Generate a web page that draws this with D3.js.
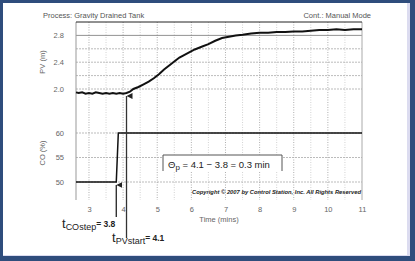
<!DOCTYPE html>
<html>
<head>
<meta charset="utf-8">
<script src="https://cdn.jsdelivr.net/npm/d3@7"></script>
<style>
  body { margin: 0; background: #fff; }
  svg { display: block; font-family: "Liberation Sans", Arial, sans-serif; }
</style>
</head>
<body>
<svg id="chart" width="415" height="261"></svg>
<script>
// PV (tank level, m)
var pvTime = [2.62, 2.7, 2.8, 2.9, 3.0, 3.1, 3.2, 3.3, 3.4, 3.5, 3.6, 3.7, 3.8, 3.9, 4.0, 4.1,
    4.2, 4.3, 4.45, 4.6, 4.75, 4.9, 5.05, 5.2, 5.35, 5.5, 5.65, 5.8, 5.95, 6.1, 6.3, 6.5, 6.7,
    6.9, 7.1, 7.3, 7.5, 7.75, 8.0, 8.25, 8.5, 8.75, 9.0, 9.25, 9.5, 9.75, 10.0, 10.25, 10.5, 10.75, 11.0];
var pvValue = [1.95, 1.94, 1.95, 1.93, 1.94, 1.93, 1.95, 1.94, 1.93, 1.94, 1.93, 1.94, 1.93, 1.94, 1.93, 1.94,
    1.96, 2.00, 2.03, 2.07, 2.11, 2.16, 2.22, 2.29, 2.35, 2.41, 2.47, 2.51, 2.55, 2.59, 2.63, 2.67, 2.72,
    2.76, 2.78, 2.80, 2.81, 2.83, 2.84, 2.84, 2.85, 2.85, 2.86, 2.86, 2.87, 2.88, 2.88, 2.89, 2.88, 2.89, 2.89];

// CO (controller output, %) step
var coTime = [2.62, 3.8, 3.86, 11.0];
var coValue = [50, 50, 60, 60];

var timeTicks = [3, 4, 5, 6, 7, 8, 9, 10, 11];
var pvTicks = [2.0, 2.4, 2.8];
var pvGrid = [2.0, 2.2, 2.4, 2.6, 2.8];
var coTicks = [50, 55, 60];

var tCOstep = 3.8, tPVstart = 4.1;

var svg = d3.select("#chart");

// blue frame
svg.append("rect").attr("width", 415).attr("height", 261).attr("fill", "#2f4d7c");
svg.append("rect").attr("x", 3).attr("y", 3).attr("width", 407).attr("height", 253).attr("fill", "#dcdcf0");
svg.append("rect").attr("x", 3).attr("y", 3).attr("width", 404).attr("height", 252).attr("fill", "#fff");

var plotL = 76, plotR = 362, plotT = 22, plotB = 200;

var x = d3.scaleLinear().domain([2.62, 11]).range([plotL, plotR]);
var yPV = d3.scaleLinear().domain([2.0, 3.0]).range([89, plotT]);
var yCO = d3.scaleLinear().domain([50, 60]).range([182, 133]);

// grid
svg.append("g").selectAll("line")
    .data(d3.range(3, 11, 0.5))
    .enter().append("line")
    .attr("x1", d => x(d)).attr("x2", d => x(d))
    .attr("y1", plotT).attr("y2", plotB)
    .attr("stroke", d => d % 1 === 0 ? "#9a9a9a" : "#c8c8c8")
    .attr("stroke-width", 0.8)
    .attr("stroke-dasharray", "1,1.5");

svg.append("g").selectAll("line")
    .data(pvGrid)
    .enter().append("line")
    .attr("x1", plotL).attr("x2", plotR)
    .attr("y1", d => yPV(d)).attr("y2", d => yPV(d))
    .attr("stroke", d => d === 2.8 ? "#777" : "#aaa")
    .attr("stroke-width", 0.8)
    .attr("stroke-dasharray", d => d === 2.8 ? null : "2,1");

svg.append("g").selectAll("line")
    .data(coTicks)
    .enter().append("line")
    .attr("x1", plotL).attr("x2", plotR)
    .attr("y1", d => yCO(d)).attr("y2", d => yCO(d))
    .attr("stroke", "#aaa")
    .attr("stroke-width", 0.8)
    .attr("stroke-dasharray", "2,1");

// borders
svg.append("line").attr("x1", plotL).attr("x2", plotL).attr("y1", plotT).attr("y2", plotB)
    .attr("stroke", "#999").attr("stroke-width", 1);
svg.append("line").attr("x1", plotR).attr("x2", plotR).attr("y1", plotT).attr("y2", plotB)
    .attr("stroke", "#aaa").attr("stroke-width", 1);
svg.append("line").attr("x1", plotL).attr("x2", plotR).attr("y1", plotT).attr("y2", plotT)
    .attr("stroke", "#222").attr("stroke-width", 1);

// axes
function styleAxis(g) {
    g.select(".domain").remove();
    g.selectAll("text").attr("fill", "#666").style("font-size", "7.5px");
}
svg.append("g").attr("transform", "translate(" + plotL + ",0)")
    .call(d3.axisLeft(yPV).tickValues(pvTicks).tickFormat(d3.format(".1f")).tickSize(0).tickPadding(12))
    .call(styleAxis);
svg.append("g").attr("transform", "translate(" + plotL + ",0)")
    .call(d3.axisLeft(yCO).tickValues(coTicks).tickSize(0).tickPadding(12))
    .call(styleAxis);
svg.append("g").attr("transform", "translate(0," + plotB + ")")
    .call(d3.axisBottom(x).tickValues(timeTicks).tickSize(0).tickPadding(7))
    .call(styleAxis);

// axis titles
svg.append("text").attr("transform", "translate(45,62) rotate(-90)")
    .attr("text-anchor", "middle").attr("fill", "#666").style("font-size", "7.5px").text("PV (m)");
svg.append("text").attr("transform", "translate(45,153) rotate(-90)")
    .attr("text-anchor", "middle").attr("fill", "#666").style("font-size", "7.5px").text("CO (%)");
svg.append("text").attr("x", 219).attr("y", 222)
    .attr("text-anchor", "middle").attr("fill", "#666").style("font-size", "7.5px").text("Time (mins)");

svg.append("text").attr("x", 43).attr("y", 18).attr("fill", "#555").style("font-size", "7.5px")
    .text("Process: Gravity Drained Tank");
svg.append("text").attr("x", 371).attr("y", 18).attr("text-anchor", "end").attr("fill", "#555").style("font-size", "7.5px")
    .text("Cont.: Manual Mode");

// theta box
var box = svg.append("g");
box.append("rect").attr("x", 163).attr("y", 155).attr("width", 119).attr("height", 16).attr("fill", "#fff");
box.append("path").attr("d", "M163,171V155H282V171").attr("fill", "none").attr("stroke", "#555").attr("stroke-width", 1);
var th = box.append("text").attr("x", 168).attr("y", 168).attr("fill", "#222").style("font-size", "9.5px");
th.append("tspan").text("Θ");
th.append("tspan").attr("dy", 1.5).style("font-size", "8px").text("p");
th.append("tspan").attr("dy", -1.5).text(" = 4.1 − 3.8 = 0.3 min");

svg.append("text").attr("x", 361).attr("y", 194).attr("text-anchor", "end")
    .attr("fill", "#222").style("font-size", "5.8px").style("font-weight", "bold").style("font-style", "italic")
    .text("Copyright © 2007 by Control Station, Inc.   All Rights Reserved");

// data lines
var pvData = pvTime.map((t, i) => [t, pvValue[i]]);
var coData = coTime.map((t, i) => [t, coValue[i]]);

svg.append("path").datum(coData)
    .attr("fill", "none").attr("stroke", "#111").attr("stroke-width", 1.5)
    .attr("d", d3.line().x(d => x(d[0])).y(d => yCO(d[1])));

svg.append("path").datum(pvData)
    .attr("fill", "none").attr("stroke", "#111").attr("stroke-width", 2)
    .attr("d", d3.line().x(d => x(d[0])).y(d => yPV(d[1])));

// arrows
svg.append("defs").append("marker")
    .attr("id", "head").attr("viewBox", "0 0 10 10").attr("refX", 5).attr("refY", 0)
    .attr("markerWidth", 6).attr("markerHeight", 6).attr("markerUnits", "userSpaceOnUse")
    .attr("orient", "auto-start-reverse")
    .append("path").attr("d", "M0,10L5,0L10,10Z").attr("fill", "#222");

svg.append("line").attr("x1", x(tCOstep)).attr("x2", x(tCOstep))
    .attr("y1", yCO(50) + 3).attr("y2", 217)
    .attr("stroke", "#222").attr("stroke-width", 1.3).attr("marker-start", "url(#head)");
svg.append("line").attr("x1", x(tPVstart)).attr("x2", x(tPVstart))
    .attr("y1", yPV(1.94) + 3).attr("y2", 238)
    .attr("stroke", "#333").attr("stroke-width", 1.3).attr("marker-start", "url(#head)");

// t labels
function tLabel(xp, yp, sub, val) {
    var t = svg.append("text").attr("x", xp).attr("y", yp).attr("fill", "#222");
    t.append("tspan").style("font-size", "13px").text("t");
    t.append("tspan").attr("dy", 2).style("font-size", "9px").text(sub);
    t.append("tspan").attr("dy", -3).style("font-size", "8.5px").style("font-weight", "bold").text("= " + val);
}
tLabel(62, 228, "COstep", tCOstep);
tLabel(112, 242, "PVstart", tPVstart);
</script>
</body>
</html>
